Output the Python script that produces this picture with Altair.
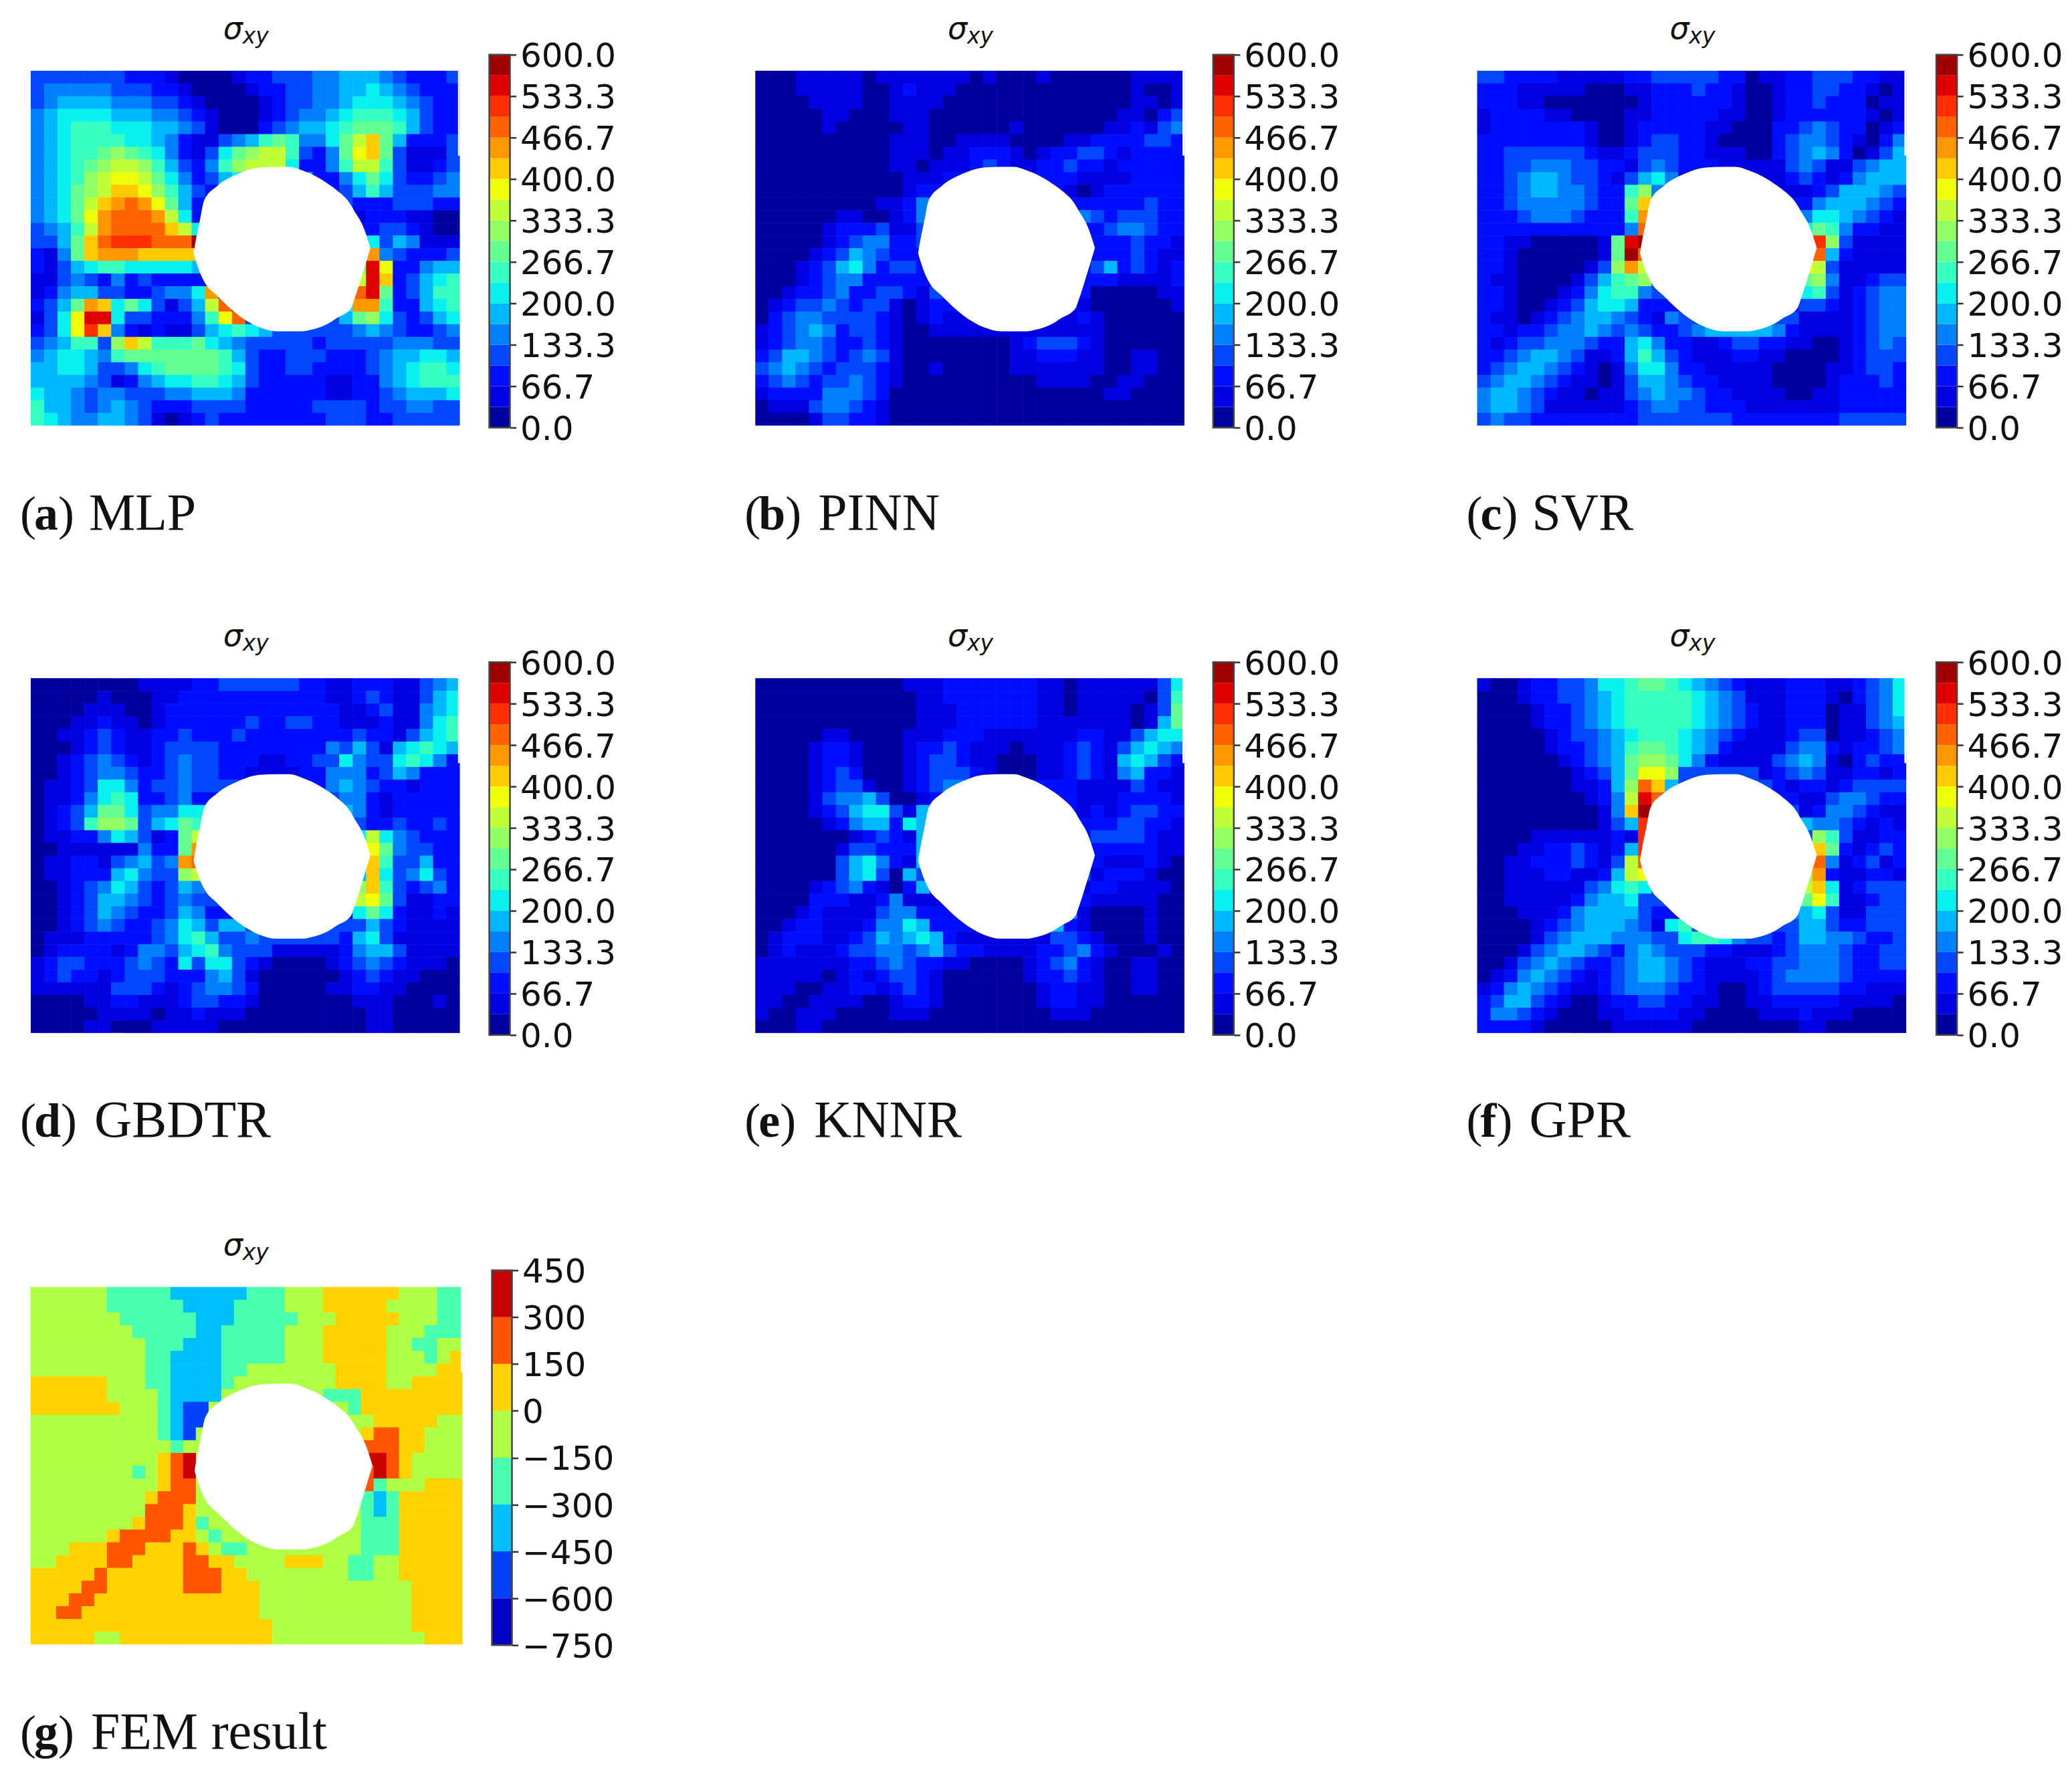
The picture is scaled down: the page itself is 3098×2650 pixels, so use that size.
import altair as alt
import pandas as pd

JET18 = ["#00009f","#0000e0","#000eff","#0047ff","#0080ff","#00b8ff","#09f1ee","#37ffc0","#64ff92",
         "#92ff64","#c0ff37","#eeff09","#ffcb00","#ff9700","#ff6300","#ff2e00","#e00000","#9f0000"]
JET8 = ["#0000c8","#0040ff","#00bfff","#47ffaf","#afff47","#ffd300","#ff5500","#c80000"]
TICKS_600 = [0, 66.67, 133.33, 200, 266.67, 333.33, 400, 466.67, 533.33, 600]
TICKS_FEM = [-750, -600, -450, -300, -150, 0, 150, 300, 450]

# Field levels: one character per cell (base 18 band index of the colour bar).
# A "|" marks the stretch hidden behind the hole: left part | right part of the row.
MLP = """
33333332221000012233344555432223
34444433322100001223344556543222
34555544433210000123344566654322
45666655544321000123445677765322
45677766655431000234556788875322
45677776654211345787446 8ac852223
45677898764213689aa73248bc831113
45678 9aa97 5324 79aaa6 22 47aa73 1123
45679abba86423 56|5 22 4686 32234
45689acc b975325|23575 33344
4568acdedb85225|322233322
4568bdeeeda626|312221100
3457adeeeeca6|2332100
3358cefffeeehd|6354111
2148cdddccccc|d432223
213567766666 5|9gb22455
1134324232222|agc23567
124553322344 6d|eg823577
2358dc68631 35ae|6dd722567
136bgg6332224 7be|589632356
236bfc4212113567 65|345432234
34577 39ca777 865433333233333444 33
45665 4788888887 532233322234556 65
55665 3346788887 632233222234567 76
55554 3124566776 532222211224567 77
65543 4433344555 422222211223455 56
75543 4543222333 322222333323344 33
76544 5543101232 222222233322333 33
"""
PINN = """
00011111011111110100010000001111
00011111001211100000000000001001
00001111001111000000000000001101
00000110001110000000000000011023
00000100000110000001000000112134
00000000001110011110000112222332
00000000001110112221012233212222
00000000001101112321122322122222
00000000000111222222222211112222
00000000000122222222222101222222
000000000112432|2222322
00000011001244|443233322
0000012223113|2344322
0000012344223|223221
0000123543222|2223211
0001235642332|3523212
0001234422222|2211112
0012234223321 3|2220000011
0123343233101 2|210000001
0234433332101 2|121000000
12345423321001111111111111000000
12344322321000000001233321000000
23554323431000000001122211001100
34543233321001000001111111001100
23432334321000000000011110011000
12222444320000000000000000110000
01113443210000000000000000000000
00001332210000000000000000000000
"""
SVR = """
33222211111223333322011223332211
22211111000112223221001223322101
22211000000012222221001223222011
12222110000112222211001222222101
12222222100122222110002234322012
22222222100123322100002344321024
22333333211233322111002345420135
22334443322134 322211111 34311345
223455433213564|1232124555
22345544322 794|12355543
22344444322 8c|24555432
22234443222 7d|46654321
22222222222 4e|68742211
2211000001 8gh|6f931111
2210000001 8he|6e521111
2210000013 9da|ba311111
2110000135 789|89411233
2210001246 774|67312344
2210012356 6522|33212344
2110123455 43214|311112344
2212234454 34322345 5555421111 2344
2123344432 25642211 2332211001 2343
2234554311 25753211 1221100001 2333
2345543210 14664221 1111000011 2332
3455432110 13554322 1111000012 2232
4554321101 13454432 2111100112 2222
4554311111 12344332 2211111112 2222
3433222222 22333333 3222222223 3333
"""
GBDTR = """
00000000111122333333221122211345
00000100011222222222221123211356
00001110012222222222222112311456
00011211012222223223322111211467
00112321122322232222222232213567
00012321123333222222224353156765
00123432123433222112233643367642
00123443223433221111224442354222
01123664233433333333224543221222
01124676223422222222223442122222
01235886344666666|6542122222
012379983568 7|7432232232
0112246531 28a|6a643222
0011111142 28d|5b843322
0112213453 4de|5c733522
0112225643 39a|5c634632
0012346532 354|9c732342
0012355432 3433|ab831122
0012354322 35422|68621121
0012343223 46 5355|35321111
01112222 2 3 4 6 7 5 3 3 4 3 3 3 3 3 3 2 5 6 3 1 1 1 1 1
01222212 4 4 3 5 6 7 4 3 3 3 1 1 1 1 1 2 4 5 5 3 1 1 1 1
12332223 4 3 2 6 3 6 6 3 2 1 0 0 0 0 1 2 3 4 3 2 1 1 1 0
12322123 3 3 2 2 2 4 5 3 1 0 0 0 0 0 0 1 2 3 2 1 1 0 0 0
11111133 3 2 1 2 3 4 4 3 2 0 0 0 0 0 1 1 2 2 1 1 0 0 0 0
00001122 1 1 1 2 3 3 2 2 1 0 0 0 0 0 0 0 1 1 1 0 0 0 1 0
00000111 1 0 1 1 2 1 1 1 0 0 0 0 0 0 0 0 0 1 1 0 0 0 0 0
00001100 0 1 1 1 1 1 0 0 0 0 0 0 0 0 0 0 0 1 1 0 0 0 0 0
"""
KNNR = """
00000000000111222222211011111136
00000000000011222222211011111037
00000000000011122222211011110138
00000000000011122222211111110158
00000110000111222111111122113566
00001221000122321110111232135654
00001221000123321100011232156532
00001232000123332100011232145221
00001233100123 4443|211113211
00001344 5 3 00124 4|211122221
000012 3 5 6 6 3 1 5 4|212123322
00000 1 2 4 5 5 2 6 5|122233221
00000 0 0 1 2 3 2 1 5|123333211
00000 0 1 3 3 2 2 2 5|7632222211
00000 0 3 5 6 4 2 1 5|7752111210
00000 0 3 5 6 3 0 5|8431222100
00001 2 3 4 2 1 0 2 5|9412211110
00002221 1 2 4 1|9521111100
00012111 1 3 4 4 2|8410000100
00122111 2 4 4 6 5 2|5210000100
01222112 3 5 4 5 6 5 2|13321000100
01211123 3 4 4 3 4 5 3 2 2 1 1 1 1 2 2 3 4 2 1 0 0 0 1 0 0
11111112234322110000123421001100
11111012123321000000122321001100
11100112212321000000012211001100
11001111001221000000012211000000
10011100001110000000001110000000
00011000000000000000000000000000
"""
GPR = """
10012233466788765432111222112346
00012233456777776543111222102346
00001223456777776543211222011346
00001223456777776543211222011345
00000123345677765432111233011234
00000122345788765421111344212234
00000012345899864211113454102322
0000000123 58bb93|312343112212
0000000112 59ec5|332122 1233 33
0000000012 4age|211344322
0000000001 4chd|312443211
0000000001 35f|54432121
0000111111 21f|9731122
0001122321 25f|c821232
0011222321 3ae|e412312
0011122112 5ab|9d211221
0011111134 676|ac612333
0011111245 563|8b711233
0001112455 5532|456311333
0000123455 54316 7|355322333
0000134555 4443367 76433235544322 33
0001345543 2454333 22111234443 22 33
0013454322 3455432 11122334443 22 33
0124543212 3455432 11112344443 22 22
1245432112 3444322 10012333332 21 11
2355321001 2233221 10011222221 11 10
2443210001 1222211 00001112111 00 00
2222100000 1111110 00000001100 00 00
"""
FEM = """
444444 33333 222222 333 444 555555 444 33
444444 333333 2222 3333 444 55555 4444 33
4444444 333333 222 33333 444 55555 444 333
44444444 33333 22 33333 444 55555 444 333
444444444 333 222 33333 444 55555 44 33 44
444444444 33 2222 33333 444 55555 444 3 4 5
444444444 33 2222 33 4444444 5555 4444 55
555555 444 33 2222 3 44444444 5555 44 5555
555555 4444 3 2222 44444444 333 55555555
5555555 444 3 2 11 44444444444 3 55555555
4444444444 3 2 1 1 4444444444444 55555 44
4444444444 3 2 1 4444444444444 5 66 55 444
44444444444 3 4 4444444444444 666 55 444
4444444444 5 6 7 4444444444444 7 7 6 5 4444
44444444 3 4 5 6 7 4444444444444 6 7 6 5 4444
4444444444 5 6 6 4444444444444 6 3 4 4 4 555
444444444 5 666 4444444444444 3 2 3 55555
444444444 666 5 4444444444444 3 2 3 55555
44444444 5 666 5 3 444444444444 333 55555
444444 5 6666 55 4 3 44444444444 333 55555
444 555 666 555 6 5 4 33 444444444 333 55555
44 5555 66 5555 66 55 4444 555 44 33 44 55555
55555 6 555555 666 55 44444444 33 44 55555
5555 66 555555 666 555 444444444444 5555
555 66 5555555555555 444444444444 5555
55 66 55555555555555 444444444444 5555
5555555555555555555 44444444444 5555
55555 44 555555555555 444444444444 555
"""

# Outline of the hole, in grid units of the 32 x 28 field
HOLE_X = [12.14,12.30,12.62,12.93,13.89,15.48,17.06,18.33,19.29,20.24,20.88,22.15,22.78,23.90,24.05,24.85,25.33]
HOLE_TOP = [14.4,13.43,11.75,10.22,9.11,8.13,7.63,7.58,7.58,7.86,8.13,8.91,9.39,10.64,10.92,12.45,13.98]
HOLE_BOTTOM = [14.4,14.96,15.93,16.63,17.74,19.28,20.25,20.56,20.56,20.56,20.45,19.97,19.55,18.72,18.30,15.65,13.98]

CAPTIONS = [("a","MLP",36,87),("b","PINN",40,94),("c","SVR",32,82),("d","GBDTR",40,95),
            ("e","KNNR",32,88),("f","GPR",24,78),("g","FEM result",36,90)]


def cells(text, ncols, value):
    rows = [r.replace(" ", "") for r in text.strip().splitlines()]
    out = []
    for r, row in enumerate(rows):
        if "|" in row:
            left, right = row.split("|")
            filler = format(min(int(left[-1], 18), int(right[0], 18), 3), "x")
            row = left + filler * max(0, ncols - len(left) - len(right)) + right
        row = row.ljust(ncols, row[-1])[:ncols]
        for c, ch in enumerate(row):
            out.append({"c": c, "c2": min(c + 1.03, ncols), "r": r, "r2": min(r + 1.03, len(rows)),
                        "v": value(int(ch, 18))})
    return pd.DataFrame(out), len(rows)


def text_layer(txt, x, y, size, font, weight="normal", style="normal"):
    return alt.Chart(pd.DataFrame({"t": [txt]})).mark_text(
        align="left", baseline="alphabetic", font=font, fontSize=size, fontWeight=weight,
        fontStyle=style, color="#111111").encode(x=alt.value(x), y=alt.value(y), text="t:N")


def panel(text, caption, w, h, top, boxh, ncols, colors, thresholds, value, cap_y,
          edges, ticks, fmt, barx, barw, barh, xscale=1.0):
    df, nrows = cells(text, ncols, value)
    x = alt.Scale(domain=[0, ncols], range=[0, w])
    y = alt.Scale(domain=[0, nrows], range=[top, top + h])
    rects = alt.Chart(df).mark_rect().encode(
        x=alt.X("c:Q", scale=x, axis=None), x2="c2:Q",
        y=alt.Y("r:Q", scale=y, axis=None), y2="r2:Q",
        color=alt.Color("v:Q", scale=alt.Scale(type="threshold", domain=thresholds, range=colors), legend=None))
    hole = alt.Chart(pd.DataFrame({"x": [v * xscale for v in HOLE_X], "t": HOLE_TOP, "b": HOLE_BOTTOM})).mark_area(
        color="white", opacity=1, interpolate="monotone").encode(
        x=alt.X("x:Q", scale=x, axis=None), y=alt.Y("t:Q", scale=y, axis=None), y2="b:Q")
    notch = alt.Chart(pd.DataFrame({"a": [ncols - 0.14], "b": [ncols], "t": [0], "u": [6.7]})).mark_rect(color="white").encode(
        x=alt.X("a:Q", scale=x, axis=None), x2="b:Q", y=alt.Y("t:Q", scale=y, axis=None), y2="u:Q")
    letter, name, lw, nx = caption
    bx = alt.Scale(domain=[0, 1], range=[barx, barx + barw])
    by = alt.Scale(domain=[edges[0], edges[-1]], range=[barh, 0], nice=False, zero=False)
    bands = pd.DataFrame({"p": [0] * len(colors), "q": [1] * len(colors),
                          "lo": edges[:-1], "hi": edges[1:], "col": colors})
    bars = alt.Chart(bands).mark_rect().encode(
        x=alt.X("p:Q", scale=bx, axis=None), x2="q:Q",
        y=alt.Y("lo:Q", scale=by, axis=alt.Axis(
            values=ticks, format=fmt, title=None, grid=False, domain=False, orient="right",
            tickSize=9, tickWidth=2.5, tickColor="#333333", labelFont="DejaVu Sans", labelFontSize=50,
            labelColor="#111111", labelPadding=6, labelOffset=3, labelOverlap=False, labelFlush=False,
            labelBound=False)),
        y2="hi:Q", fill=alt.Fill("col:N", scale=None))
    frame = alt.Chart(pd.DataFrame({"p": [0], "q": [1], "lo": [edges[0]], "hi": [edges[-1]]})).mark_rect(
        fillOpacity=0, stroke="#444444", strokeWidth=2.5).encode(
        x=alt.X("p:Q", scale=bx, axis=None), x2="q:Q",
        y=alt.Y("lo:Q", scale=by, axis=None), y2="hi:Q")
    layers = [rects, hole, notch, bars, frame,
              text_layer("σ", 288, top - 48, 46, "DejaVu Sans", style="italic"),
              text_layer("xy", 317, top - 41, 33, "DejaVu Sans", style="italic"),
              text_layer("(", -16, cap_y, 72, "Liberation Serif"),
              text_layer(letter, 5, cap_y, 72, "Liberation Serif", weight="bold"),
              text_layer(")", 5 + lw, cap_y, 72, "Liberation Serif"),
              text_layer(name, nx, cap_y, 78, "Liberation Serif")]
    return alt.layer(*layers).resolve_scale(x="independent", y="independent", color="independent").properties(
        width=barx + barw, height=boxh)


EDGES_600 = [i * 100 / 3 for i in range(19)]
TH_600 = EDGES_600[1:-1]
EDGES_FEM = [-750 + 150 * i for i in range(9)]
TH_FEM = EDGES_FEM[1:-1]
val600 = lambda k: (k + 0.5) * 100 / 3
valfem = lambda k: -750 + 150 * (k + 0.5)


def panel600(text, cap, barx, cap_y, boxh=558):
    return panel(text, cap, 642, 531, 24, boxh, 32, JET18, TH_600, val600, cap_y,
                 EDGES_600, TICKS_600, ".1f", barx, 31, 558)


panels = [
    panel600(MLP, CAPTIONS[0], 686, 711),
    panel600(PINN, CAPTIONS[1], 685, 711),
    panel600(SVR, CAPTIONS[2], 687, 711),
    panel600(GBDTR, CAPTIONS[3], 686, 710, boxh=559),
    panel600(KNNR, CAPTIONS[4], 685, 710, boxh=559),
    panel600(GPR, CAPTIONS[5], 687, 710, boxh=559),
    panel(FEM, CAPTIONS[6], 646, 535, 25, 561, 34, JET8, TH_FEM, valfem, 716,
          EDGES_FEM, TICKS_FEM, "d", 690, 30, 561, xscale=34 / 32),
]

chart = alt.concat(*panels, columns=3, spacing={"row": 351, "column": 364}, bounds="flush", align="none").resolve_scale(
    color="independent").properties(
    padding={"left": 21, "top": 11, "right": 5, "bottom": 5}, background="white"
).configure_view(stroke="transparent")

chart.save("out.html", embed_options={"renderer": "svg", "actions": False})
